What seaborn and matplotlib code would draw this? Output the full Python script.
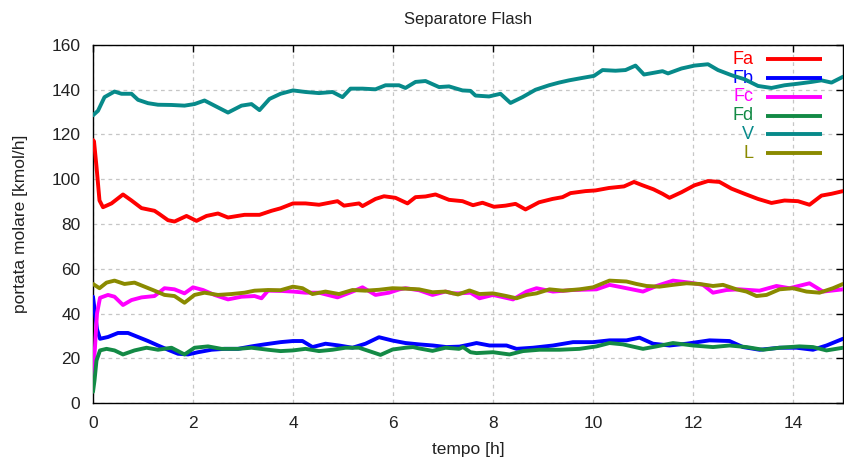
import matplotlib
matplotlib.use("Agg")
import matplotlib.pyplot as plt
import seaborn as sns
import pandas as pd

# --- series: time [h] and molar flow [kmol/h] ---
fa_t = [0, 0.02, 0.07, 0.13, 0.2, 0.37, 0.6, 0.77, 0.97, 1.23, 1.33, 1.5, 1.63, 1.87, 2.07, 2.27, 2.5, 2.7,
        3.03, 3.33, 3.57, 3.75, 4.0, 4.25, 4.52, 4.89, 5.02, 5.32, 5.39, 5.65, 5.82, 6.05, 6.29, 6.45, 6.65,
        6.85, 7.12, 7.39, 7.6, 7.79, 8.02, 8.25, 8.45, 8.65, 8.92, 9.19, 9.39, 9.55, 9.85, 10.05, 10.32,
        10.62, 10.82, 10.99, 11.21, 11.39, 11.53, 11.77, 12.03, 12.3, 12.53, 12.77, 13.03, 13.3, 13.57,
        13.83, 14.1, 14.33, 14.57, 14.77, 15.0]
fa_v = [117.5, 117, 105.6, 90.5, 87.5, 89.2, 93.2, 90.5, 87.1, 85.9, 84.4, 81.7, 81.1, 83.6, 81.4, 83.6, 84.7,
        82.9, 84.1, 84.1, 85.9, 87.0, 89.2, 89.2, 88.6, 90.2, 88.2, 89.2, 88.0, 91.2, 92.4, 91.7, 89.2, 92.0,
        92.3, 93.2, 90.8, 90.2, 88.4, 89.5, 87.7, 88.2, 89.0, 86.5, 89.7, 91.2, 92.0, 93.8, 94.7, 95.0, 96.1,
        96.8, 98.8, 97.3, 95.5, 93.5, 91.7, 94.2, 97.3, 99.2, 98.8, 95.8, 93.5, 91.2, 89.4, 90.5, 90.2, 88.6,
        92.7, 93.5, 94.7]

fb_t = [0, 0.03, 0.08, 0.14, 0.3, 0.5, 0.7, 0.9, 1.1, 1.3, 1.5, 1.7, 1.9, 2.1, 2.37, 2.63, 2.9, 3.17, 3.43,
        3.75, 4.0, 4.19, 4.39, 4.65, 4.92, 5.19, 5.45, 5.72, 5.99, 6.25, 6.52, 6.8, 7.07, 7.33, 7.55, 7.67,
        7.93, 8.27, 8.47, 8.8, 9.2, 9.6, 10.0, 10.33, 10.67, 10.93, 11.2, 11.53, 11.87, 12.33, 12.73, 13.0,
        13.33, 13.73, 14.07, 14.4, 14.67, 15.0]
fb_v = [47.5, 42, 33, 28.7, 29.5, 31.3, 31.3, 29.5, 27.7, 25.7, 23.8, 22.0, 21.7, 22.7, 23.8, 24.2, 24.2,
        25.3, 26.2, 27.2, 27.7, 27.7, 25.0, 26.5, 25.7, 24.7, 26.5, 29.4, 27.9, 26.8, 26.2, 25.7, 25.0, 25.2,
        26.2, 26.8, 25.7, 25.7, 24.2, 24.7, 25.7, 27.2, 27.2, 28.0, 28.0, 29.2, 26.5, 25.7, 26.5, 28.0, 27.7,
        25.0, 23.8, 24.7, 24.7, 23.8, 25.7, 28.7]

fc_t = [0, 0.04, 0.08, 0.14, 0.3, 0.43, 0.6, 0.77, 0.97, 1.23, 1.43, 1.63, 1.83, 2.0, 2.2, 2.43, 2.7, 2.97,
        3.23, 3.37, 3.5, 3.75, 4.0, 4.25, 4.52, 4.89, 5.19, 5.39, 5.65, 5.92, 6.13, 6.25, 6.52, 6.79, 7.05,
        7.2, 7.32, 7.55, 7.73, 8.0, 8.4, 8.67, 8.87, 9.2, 9.6, 10.07, 10.33, 10.67, 11.0, 11.27, 11.6, 11.93,
        12.2, 12.4, 12.67, 12.93, 13.33, 13.67, 13.93, 14.33, 14.6, 15.0]
fc_v = [12, 25, 40, 47, 48.3, 47.5, 43.8, 46.0, 47.2, 47.8, 51.3, 50.8, 49.0, 51.7, 50.5, 48.3, 46.3, 47.5,
        47.8, 46.8, 50.2, 50.1, 49.8, 49.3, 49.3, 47.2, 49.8, 51.7, 48.3, 49.3, 50.8, 51.3, 50.4, 48.3, 49.8,
        49.0, 49.0, 49.3, 46.8, 48.3, 46.3, 49.8, 51.3, 49.8, 50.5, 50.8, 52.8, 51.3, 49.8, 52.3, 54.7, 53.8,
        52.8, 49.3, 50.5, 50.8, 50.2, 52.3, 51.3, 53.5, 49.8, 50.8]

fd_t = [0, 0.03, 0.07, 0.14, 0.27, 0.43, 0.6, 0.83, 1.07, 1.3, 1.57, 1.83, 2.03, 2.3, 2.57, 2.9, 3.17, 3.5,
        3.75, 4.0, 4.25, 4.52, 4.79, 5.05, 5.32, 5.59, 5.75, 5.99, 6.25, 6.4, 6.52, 6.79, 7.05, 7.32, 7.4,
        7.55, 7.67, 8.0, 8.33, 8.6, 8.93, 9.33, 9.73, 10.07, 10.33, 10.6, 11.0, 11.27, 11.6, 12.0, 12.4,
        12.73, 13.07, 13.4, 13.73, 14.13, 14.4, 14.67, 15.0]
fd_v = [5, 10, 19, 23.5, 24.2, 23.5, 21.7, 23.5, 24.7, 23.8, 24.7, 21.7, 24.7, 25.3, 24.2, 24.2, 24.7, 23.8,
        23.2, 23.5, 24.2, 23.2, 23.8, 24.7, 24.7, 22.7, 21.5, 23.9, 24.7, 25.0, 24.4, 23.3, 24.7, 24.2, 25.0,
        22.7, 22.3, 22.7, 21.7, 23.2, 23.8, 23.8, 24.2, 25.3, 26.8, 26.2, 24.2, 25.3, 26.8, 25.7, 25.0, 25.7,
        25.0, 23.8, 24.7, 25.3, 25.0, 23.5, 24.7]

v_t = [0, 0.1, 0.23, 0.43, 0.57, 0.77, 0.9, 1.1, 1.3, 1.57, 1.83, 2.03, 2.23, 2.43, 2.7, 2.97, 3.17, 3.33,
       3.53, 3.75, 4.0, 4.25, 4.52, 4.79, 4.99, 5.15, 5.39, 5.65, 5.85, 6.12, 6.25, 6.45, 6.65, 6.92, 7.12,
       7.39, 7.55, 7.65, 7.92, 8.15, 8.35, 8.59, 8.85, 9.12, 9.32, 9.52, 9.79, 10.02, 10.19, 10.45, 10.65,
       10.85, 11.02, 11.22, 11.39, 11.5, 11.77, 12.03, 12.3, 12.5, 12.77, 13.03, 13.3, 13.57, 13.83, 14.1,
       14.37, 14.57, 14.77, 15.0]
v_v = [128.6, 130.6, 136.7, 139.2, 138.2, 138.2, 135.5, 134.0, 133.3, 133.2, 132.9, 133.6, 135.2, 132.9,
       129.8, 132.9, 133.6, 130.9, 135.9, 138.2, 139.7, 139.0, 138.5, 139.0, 136.7, 140.5, 140.5, 140.2,
       142.0, 142.0, 140.8, 143.5, 143.9, 141.2, 141.5, 139.7, 139.5, 137.4, 137.0, 138.2, 134.1, 136.7,
       140.0, 142.0, 143.2, 144.2, 145.3, 146.2, 148.8, 148.5, 148.8, 150.8, 146.8, 147.6, 148.3, 147.3,
       149.5, 150.8, 151.4, 148.8, 146.5, 144.7, 141.7, 140.8, 142.0, 142.7, 143.5, 144.2, 143.2, 145.8]

l_t = [0, 0.13, 0.27, 0.43, 0.63, 0.83, 1.03, 1.23, 1.43, 1.63, 1.83, 2.03, 2.23, 2.5, 2.77, 3.03, 3.23, 3.5,
       3.75, 4.0, 4.19, 4.39, 4.65, 4.92, 5.19, 5.45, 5.72, 5.99, 6.25, 6.52, 6.79, 7.05, 7.3, 7.53, 7.73,
       8.0, 8.27, 8.47, 8.67, 8.87, 9.13, 9.4, 9.73, 10.0, 10.33, 10.67, 10.87, 11.07, 11.33, 11.6, 11.87,
       12.13, 12.4, 12.6, 12.87, 13.07, 13.27, 13.47, 13.73, 14.0, 14.27, 14.53, 14.8, 15.0]
l_v = [53.2, 51.3, 53.8, 54.7, 53.2, 53.8, 52.0, 50.2, 48.3, 47.8, 44.8, 48.3, 49.3, 48.3, 48.7, 49.3, 50.2,
       50.5, 50.4, 52.0, 51.3, 48.7, 49.8, 48.7, 50.5, 50.2, 50.6, 51.3, 51.1, 50.8, 49.5, 49.8, 48.5, 50.3,
       48.7, 49.0, 47.8, 46.8, 48.3, 49.0, 50.8, 50.2, 50.8, 51.7, 54.7, 54.3, 53.2, 52.3, 52.0, 52.8, 53.5,
       53.2, 52.3, 52.8, 50.8, 49.8, 47.8, 48.3, 50.8, 51.3, 49.8, 49.3, 51.3, 53.2]

series_names = ["Fa", "Fb", "Fc", "Fd", "V", "L"]
series_data = [(fa_t, fa_v), (fb_t, fb_v), (fc_t, fc_v), (fd_t, fd_v), (v_t, v_v), (l_t, l_v)]
colors = ["#ff0000", "#0000ff", "#ff00ff", "#138a45", "#078a8a", "#8a8a00"]

x_ticks = [0, 2, 4, 6, 8, 10, 12, 14]
y_ticks = [0, 20, 40, 60, 80, 100, 120, 140, 160]

frames = []
for name, (t, v) in zip(series_names, series_data):
    frames.append(pd.DataFrame({"tempo": t, "portata": v, "serie": name}))
df = pd.concat(frames, ignore_index=True)

sns.set_theme(style="white")
plt.rcParams["font.family"] = ["Liberation Sans Narrow", "Liberation Sans", "DejaVu Sans"]

fig = plt.figure(figsize=(8.45, 4.61), dpi=100)
ax = fig.add_axes([93 / 845, 58 / 461, 750 / 845, 358 / 461])

sns.lineplot(data=df, x="tempo", y="portata", hue="serie", hue_order=series_names,
             palette=dict(zip(series_names, colors)), estimator=None, sort=False,
             linewidth=2.8, legend=False, ax=ax, zorder=3)

ax.set_xlim(0, 15)
ax.set_ylim(0, 160)
ax.set_xticks(x_ticks)
ax.set_yticks(y_ticks)
ax.grid(True, color="#c6c6c6", linestyle=(0, (3, 3)), linewidth=0.9)
ax.set_axisbelow(True)
for s in ax.spines.values():
    s.set_color("black")
    s.set_linewidth(1.0)
    s.set_visible(True)
ax.tick_params(direction="in", top=True, right=True, length=5, width=1, colors="black",
               labelsize=12.5, labelcolor="#222222")
ax.tick_params(axis="y", pad=9)
ax.tick_params(axis="x", pad=9)

ax.set_xlabel("tempo [h]", fontsize=12.5, color="#222222", labelpad=8)
ax.set_ylabel("portata molare [kmol/h]", fontsize=12.5, color="#222222", labelpad=17)
ax.set_title("Separatore Flash", fontsize=12, color="#222222", pad=15)

# key: right-aligned labels followed by a short line sample
key_y0, key_dy = 0.960, 0.0525
for i, (name, c) in enumerate(zip(series_names, colors)):
    yk = key_y0 - i * key_dy
    ax.text(0.8813, yk, name, transform=ax.transAxes, ha="right", va="center",
            color=c, fontsize=13, zorder=1)
    ax.plot([0.897, 0.972], [yk, yk], transform=ax.transAxes, color=c,
            linewidth=2.8, solid_capstyle="butt", zorder=4)

fig.savefig("out.png", dpi=100)
